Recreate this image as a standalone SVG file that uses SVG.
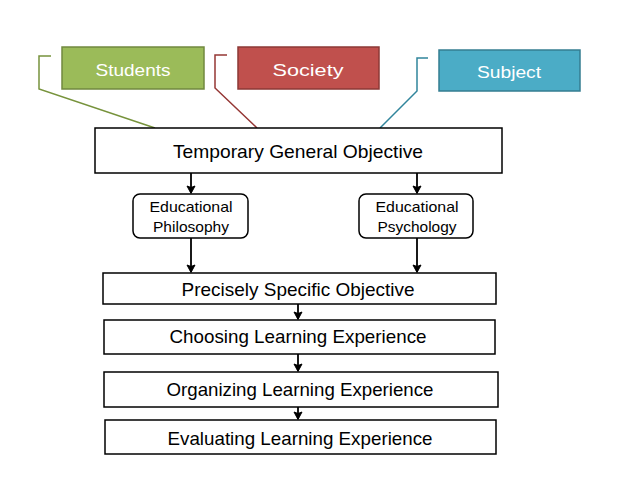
<svg xmlns="http://www.w3.org/2000/svg" width="638" height="479" viewBox="0 0 638 479">
<style>
.box{fill:#fff;stroke:#000;stroke-width:1.5}
.t{font-family:"Liberation Sans",Arial,sans-serif;fill:#000;text-anchor:middle}
.w{font-family:"Liberation Sans",Arial,sans-serif;fill:#fff;text-anchor:middle;font-size:17px}
.c{fill:none;stroke-width:1.5}
.a{fill:none;stroke:#000;stroke-width:1.8;marker-end:url(#ah)}
</style>
<defs>
<marker id="ah" markerWidth="10" markerHeight="10" refX="8" refY="4.5" orient="auto" markerUnits="userSpaceOnUse">
<path d="M1,0.5 L8.5,4.5 L1,8.5 L2.5,4.5 Z" fill="#000" stroke="#000" stroke-width="1" stroke-linejoin="round"/>
</marker>
</defs>
<rect width="638" height="479" fill="#fff"/>
<g id="connectors">
<polyline class="c" stroke="#77933C" points="51,56 39,56 39,89 155,128"/>
<polyline class="c" stroke="#953735" points="227,55 215,55 215,88 257,128"/>
<polyline class="c" stroke="#31859C" points="428,58 417,58 417,91 380,128"/>
<line class="a" x1="191" y1="173" x2="191" y2="193"/>
<line class="a" x1="417" y1="173" x2="417" y2="193"/>
<line class="a" x1="191" y1="238" x2="191" y2="272"/>
<line class="a" x1="417" y1="238" x2="417" y2="272"/>
<line class="a" x1="298" y1="304" x2="298" y2="319"/>
<line class="a" x1="298" y1="354" x2="298" y2="371"/>
<line class="a" x1="298" y1="407" x2="298" y2="419"/>
</g>
<g id="students">
<rect x="62" y="47" width="142" height="42" fill="#9BBB59" stroke="#71893F" stroke-width="1.5"/>
<text class="w" x="133" y="76" textLength="75" lengthAdjust="spacingAndGlyphs">Students</text>
</g>
<g id="society">
<rect x="238" y="47" width="141" height="42" fill="#C0504D" stroke="#8C3836" stroke-width="1.5"/>
<text class="w" x="308" y="76" textLength="71" lengthAdjust="spacingAndGlyphs">Society</text>
</g>
<g id="subject">
<rect x="439" y="50" width="141" height="41" fill="#4BACC6" stroke="#357D91" stroke-width="1.5"/>
<text class="w" x="509" y="78" textLength="64" lengthAdjust="spacingAndGlyphs">Subject</text>
</g>
<g id="tgo">
<rect class="box" x="95" y="128" width="407" height="45"/>
<text class="t" x="298" y="158" font-size="19" textLength="250" lengthAdjust="spacingAndGlyphs">Temporary General Objective</text>
</g>
<g id="philosophy">
<rect class="box" x="133" y="194" width="115" height="44" rx="7"/>
<text class="t" x="191" y="212" font-size="15" textLength="83" lengthAdjust="spacingAndGlyphs">Educational</text>
<text class="t" x="191" y="232" font-size="15" textLength="76" lengthAdjust="spacingAndGlyphs">Philosophy</text>
</g>
<g id="psychology">
<rect class="box" x="359" y="194" width="114" height="44" rx="7"/>
<text class="t" x="417" y="212" font-size="15" textLength="83" lengthAdjust="spacingAndGlyphs">Educational</text>
<text class="t" x="417" y="232" font-size="15" textLength="79" lengthAdjust="spacingAndGlyphs">Psychology</text>
</g>
<g id="pso">
<rect class="box" x="103" y="273" width="393" height="31"/>
<text class="t" x="298" y="296" font-size="19" textLength="233" lengthAdjust="spacingAndGlyphs">Precisely Specific Objective</text>
</g>
<g id="choosing">
<rect class="box" x="104" y="320" width="391" height="34"/>
<text class="t" x="298" y="343" font-size="19" textLength="257" lengthAdjust="spacingAndGlyphs">Choosing Learning Experience</text>
</g>
<g id="organizing">
<rect class="box" x="104" y="372" width="394" height="35"/>
<text class="t" x="300" y="396" font-size="19" textLength="267" lengthAdjust="spacingAndGlyphs">Organizing Learning Experience</text>
</g>
<g id="evaluating">
<rect class="box" x="105" y="420" width="391" height="34"/>
<text class="t" x="300" y="445" font-size="19" textLength="265" lengthAdjust="spacingAndGlyphs">Evaluating Learning Experience</text>
</g>
</svg>
